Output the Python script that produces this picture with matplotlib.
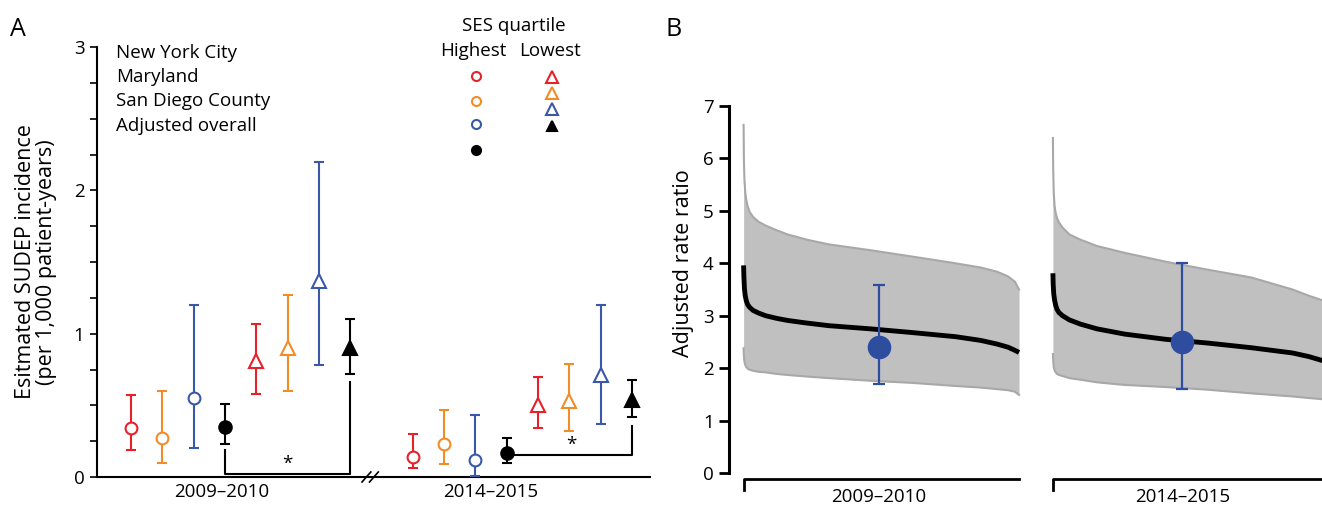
import numpy as np
import matplotlib.pyplot as plt

plt.rcParams['font.family'] = ['Open Sans', 'DejaVu Sans']

# ---- panel A data ----
periods = ['2009–2010', '2014–2015']
groups = ['New York City', 'Maryland', 'San Diego County', 'Adjusted overall']
colors = ['#e8202a', '#f28c28', '#3a58a8', 'black']

# highest SES quartile (circles), per group: 2009-2010 then 2014-2015
high_est = [[0.34, 0.27, 0.55, 0.35], [0.14, 0.23, 0.12, 0.17]]
high_lo = [[0.19, 0.10, 0.20, 0.23], [0.06, 0.09, 0.01, 0.10]]
high_hi = [[0.57, 0.60, 1.20, 0.51], [0.30, 0.47, 0.43, 0.27]]
# lowest SES quartile (triangles)
low_est = [[0.81, 0.90, 1.37, 0.90], [0.50, 0.53, 0.71, 0.54]]
low_lo = [[0.58, 0.60, 0.78, 0.72], [0.34, 0.32, 0.37, 0.42]]
low_hi = [[1.07, 1.27, 2.20, 1.10], [0.70, 0.79, 1.20, 0.68]]

# ---- panel B data (fraction along each period, rate ratio) ----
b1_x = [0, 0.001, 0.003, 0.006, 0.01, 0.015, 0.022, 0.035, 0.055, 0.08, 0.12, 0.16, 0.23, 0.31, 0.46,
        0.61, 0.77, 0.86, 0.92, 0.96, 0.985, 1.0]
b1_mid = [3.96, 3.75, 3.52, 3.38, 3.28, 3.21, 3.16, 3.10, 3.05, 3.00, 2.95, 2.91, 2.86, 2.81, 2.75,
          2.68, 2.60, 2.53, 2.46, 2.40, 2.34, 2.30]
b1_top = [6.64, 6.0, 5.6, 5.35, 5.2, 5.08, 4.98, 4.88, 4.79, 4.72, 4.63, 4.55, 4.45, 4.36, 4.25,
          4.13, 4.00, 3.92, 3.84, 3.75, 3.65, 3.50]
b1_bot = [2.38, 2.25, 2.12, 2.06, 2.02, 1.99, 1.97, 1.95, 1.93, 1.92, 1.89, 1.87, 1.84, 1.81, 1.76,
          1.72, 1.66, 1.63, 1.60, 1.58, 1.55, 1.49]

b2_x = [0, 0.001, 0.003, 0.006, 0.01, 0.015, 0.022, 0.035, 0.06, 0.1, 0.16, 0.26, 0.41, 0.56, 0.72,
        0.87, 0.93, 0.975, 1.0]
b2_mid = [3.81, 3.6, 3.42, 3.3, 3.2, 3.12, 3.06, 3.00, 2.92, 2.84, 2.75, 2.65, 2.55, 2.48, 2.39,
          2.29, 2.22, 2.15, 2.12]
b2_top = [6.39, 5.8, 5.35, 5.1, 4.96, 4.86, 4.78, 4.68, 4.55, 4.45, 4.33, 4.2, 4.03, 3.88, 3.73,
          3.50, 3.38, 3.30, 3.25]
b2_bot = [2.27, 2.15, 2.02, 1.96, 1.92, 1.89, 1.87, 1.85, 1.81, 1.78, 1.73, 1.68, 1.64, 1.59, 1.52,
          1.46, 1.43, 1.41, 1.39]

rr_x = [0.49, 0.47]
rr_est = [2.40, 2.50]
rr_lo = [1.70, 1.60]
rr_hi = [3.59, 4.00]

fig = plt.figure(figsize=(13.22, 5.09), dpi=100)
fs = 13.5

# ================= panel A =================
axA = fig.add_axes([97 / 1322, 1 - 477 / 509, (650 - 97) / 1322, (477 - 47) / 509])
axA.set_xlim(-1.086, 16.58)
axA.set_ylim(0, 3)

for p in range(2):
    base = p * 9
    for g in range(4):
        c = colors[g]
        xh = base + g
        xl = base + 4 + g
        fill_c = c if g == 3 else 'white'
        ms_c = 8.5 if g < 3 else 9
        axA.errorbar(xh, high_est[p][g],
                     yerr=[[high_est[p][g] - high_lo[p][g]], [high_hi[p][g] - high_est[p][g]]],
                     fmt='o', color=c, mfc=fill_c, mec=c, mew=1.5, ms=ms_c,
                     elinewidth=1.5, capsize=3.5, capthick=1.5, zorder=3)
        axA.errorbar(xl, low_est[p][g],
                     yerr=[[low_est[p][g] - low_lo[p][g]], [low_hi[p][g] - low_est[p][g]]],
                     fmt='^', color=c, mfc=fill_c, mec=c, mew=1.5, ms=9.5,
                     elinewidth=1.5, capsize=3.5, capthick=1.5, zorder=3)

# significance brackets
axA.plot([3, 3, 7, 7], [0.185, 0.023, 0.023, 0.665], color='black', lw=1.5)
axA.text(5.0, 0.03, '*', ha='center', va='bottom', fontsize=fs)
axA.plot([12.25, 16, 16], [0.155, 0.155, 0.355], color='black', lw=1.5)
axA.text(14.06, 0.16, '*', ha='center', va='bottom', fontsize=fs)

# axis break marks
for dx in (-0.12, 0.12):
    axA.plot([7.5 + dx, 7.78 + dx], [-0.035, 0.035], color='black', lw=1.2, clip_on=False)

# legend
for g, name in enumerate(groups):
    axA.text(-0.48, [2.96, 2.79, 2.62, 2.45][g], name, fontsize=fs, va='center', ha='left')
axA.text(12.24, 3.15, 'SES quartile', fontsize=fs, ha='center', va='center', clip_on=False)
axA.text(10.93, 2.97, 'Highest', fontsize=fs, ha='center', va='center')
axA.text(13.39, 2.97, 'Lowest', fontsize=fs, ha='center', va='center')
for g in range(4):
    c = colors[g]
    axA.plot(11.02, [2.80, 2.62, 2.46, 2.28][g], 'o', color=c,
             mfc=c if g == 3 else 'white', mec=c, mew=1.5, ms=6.5)
    axA.plot(13.45, [2.79, 2.68, 2.57, 2.45][g], '^', color=c,
             mfc=c if g == 3 else 'white', mec=c, mew=1.5, ms=9 if g < 3 else 7)

axA.spines['top'].set_visible(False)
axA.spines['right'].set_visible(False)
axA.spines['left'].set_linewidth(1.5)
axA.spines['bottom'].set_linewidth(1.5)
axA.set_yticks([0, 1, 2, 3])
axA.set_yticks(np.arange(0, 3.01, 0.25), minor=True)
axA.tick_params(axis='y', which='both', length=5, width=1.2, labelsize=fs, pad=4)
axA.set_xticks([2.9, 11.5])
axA.set_xticklabels(periods)
axA.tick_params(axis='x', length=0, labelsize=fs, pad=4)

fig.text(36 / 1322, 1 - 262 / 509, 'Esitmated SUDEP incidence\n(per 1,000 patient-years)',
         rotation=90, ha='center', va='center', fontsize=15.5, linespacing=1.0)
fig.text(10 / 1322, 1 - 30 / 509, 'A', fontsize=18, va='center')

# ================= panel B =================
axB = fig.add_axes([729 / 1322, 1 - 494 / 509, (1322 - 729) / 1322, (494 - 106) / 509])
axB.set_xlim(-0.053, 2.10)
axB.set_ylim(-0.4, 7)
off2 = 1.123

for off, bx, mid, top, bot in [(0, b1_x, b1_mid, b1_top, b1_bot),
                               (off2, b2_x, b2_mid, b2_top, b2_bot)]:
    xs = np.array(bx) + off
    axB.fill_between(xs, bot, top, color='#c0c0c0', lw=0, zorder=1)
    axB.plot(xs, top, color='#a8a8a8', lw=1.5, zorder=2)
    axB.plot(xs, bot, color='#a8a8a8', lw=1.5, zorder=2)
    axB.plot(xs, mid, color='black', lw=3.5, zorder=3, solid_capstyle='butt')
    axB.plot([off, off, off + 1], [-0.32, -0.11, -0.11], color='black', lw=2, clip_on=False)

for i, off in enumerate([0, off2]):
    axB.errorbar(off + rr_x[i], rr_est[i], yerr=[[rr_est[i] - rr_lo[i]], [rr_hi[i] - rr_est[i]]],
                 fmt='o', color='#2f4d9e', ms=16, elinewidth=1.6, capsize=4, capthick=1.6, zorder=4)
    axB.text(off + rr_x[i], -0.46, periods[i], ha='center', va='center', fontsize=fs, clip_on=False)

for s in ['top', 'right', 'bottom']:
    axB.spines[s].set_visible(False)
axB.spines['left'].set_bounds(0, 7)
axB.spines['left'].set_linewidth(2.2)
axB.set_yticks(range(8))
axB.tick_params(axis='y', length=7, width=2, labelsize=fs, pad=4)
axB.set_xticks([])

fig.text(683 / 1322, 1 - 263 / 509, 'Adjusted rate ratio', rotation=90,
         ha='center', va='center', fontsize=15.5)
fig.text(666 / 1322, 1 - 30 / 509, 'B', fontsize=18, va='center')

fig.savefig('out.png', dpi=100)
